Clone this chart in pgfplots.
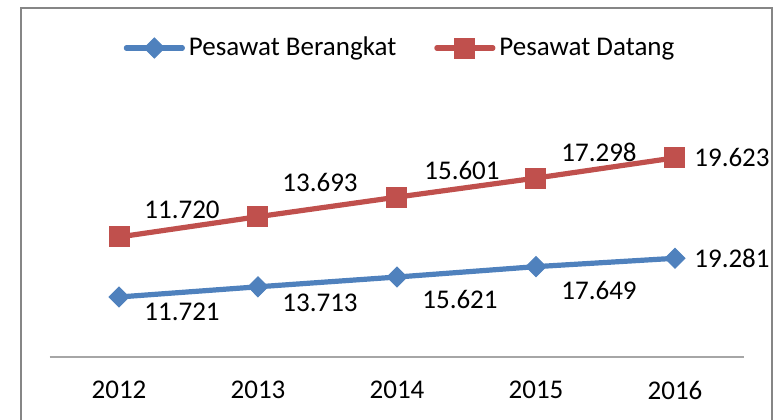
\documentclass[border=0pt]{standalone}
\usepackage{fontspec}
\setmainfont{Carlito}
\usepackage{pgfplots}
\usepackage{pgfplotstable}
\pgfplotsset{compat=1.18}
\definecolor{cblue}{HTML}{4F81BD}
\definecolor{cred}{HTML}{C0504D}
\definecolor{cframe}{HTML}{868686}
\definecolor{caxis}{HTML}{A6A6A6}
\newcommand{\cf}{\fontsize{13.5pt}{15pt}\selectfont}

\pgfplotstableread{
x y label dx dy
0 11721 11.721 31.5 -7.5
1 13713 13.713 31 -8
2 15621 15.621 31.5 -11
3 17649 17.649 31.5 -12
4 19281 19.281 28.5 0
}\berangkat
\pgfplotstableread{
x y label dx dy
0 11720 11.720 31.5 13.5
1 13693 13.693 31 17
2 15601 15.601 32.5 13.5
3 17298 17.298 31.5 13
4 19623 19.623 28.5 0
}\datang

\begin{document}
\begin{tikzpicture}
\useasboundingbox (0,0) rectangle (391.5pt,209.5pt);
\draw[cframe, line width=1pt] (10.5pt,-10pt) rectangle (386pt,205.5pt);
\begin{axis}[
  at={(24.75pt,31pt)}, anchor=south west,
  scale only axis, width=347.5pt, height=128pt,
  xmin=-0.5, xmax=4.5, ymin=0, ymax=50000,
  stack plots=y,
  axis x line*=bottom, axis y line=none,
  x axis line style={caxis, line width=0.7pt, -},
  xtick={0,1,2,3,4}, xticklabels={2012,2013,2014,2015,2016},
  major tick length=0pt,
  xticklabel style={font=\cf, anchor=center, yshift=-16.6pt},
  nodes near coords,
  point meta=explicit symbolic,
  visualization depends on={\thisrow{dx} \as \dx},
  visualization depends on={\thisrow{dy} \as \dy},
  every node near coord/.append style={font=\cf, anchor=center, xshift=\dx pt, yshift=\dy pt, text=black},
  legend columns=2,
  legend style={draw=none, fill=none, at={(0.5058,1.207)}, anchor=center,
    font=\cf, inner sep=0pt, nodes={inner sep=2pt},
    /tikz/every even column/.append style={column sep=17pt}},
  legend image code/.code={\draw[mark repeat=2,mark phase=2,#1] plot coordinates {(0pt,0pt)(14pt,0pt)(28pt,0pt)};},
]
\addplot[cblue, line width=2.6pt, line cap=round, mark=diamond*, mark size=5pt,
  mark options={solid, xscale=1.333, line width=0.5pt}]
  table[x=x, y=y, meta=label] {\berangkat};
\addlegendentry{Pesawat Berangkat}
\addplot[cred, line width=2.6pt, line cap=round, mark=square*, mark size=5pt,
  mark options={solid, line width=0.5pt}]
  table[x=x, y=y, meta=label] {\datang};
\addlegendentry{Pesawat Datang}
\end{axis}
\end{tikzpicture}
\end{document}
